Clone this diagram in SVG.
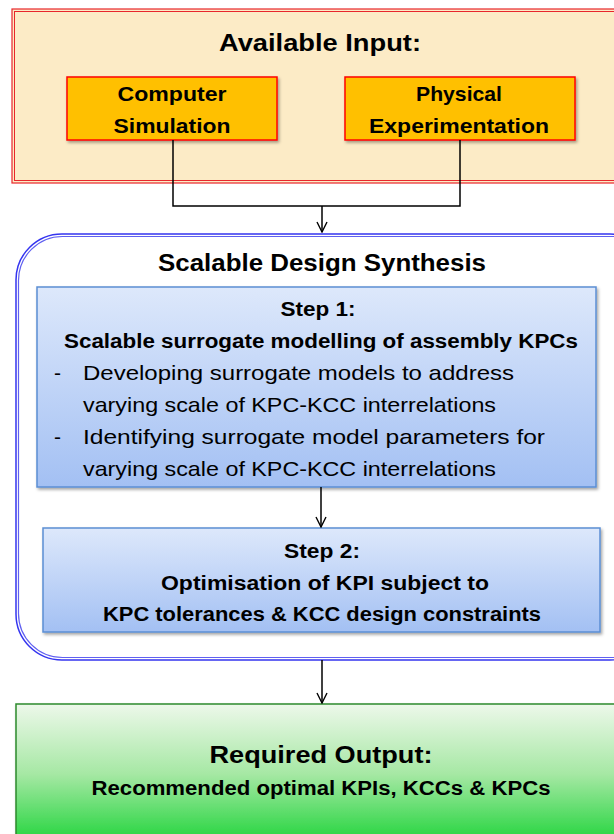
<svg xmlns="http://www.w3.org/2000/svg" width="614" height="834" viewBox="0 0 614 834">
<defs>
<style>
text{font-family:"Liberation Sans",Arial,sans-serif;fill:#000;text-anchor:middle}
.b{font-weight:bold}
.l{text-anchor:start}
.conn{fill:none;stroke:#000;stroke-width:1.5}
</style>
<linearGradient id="gBlue" x1="0" y1="0" x2="0" y2="1"><stop offset="0" stop-color="#dde8fb"/><stop offset="1" stop-color="#a3c0f3"/></linearGradient>
<linearGradient id="gGreen" x1="0" y1="0" x2="0" y2="1"><stop offset="0" stop-color="#edf8ea"/><stop offset="0.5" stop-color="#a6e8a4"/><stop offset="1" stop-color="#1fd43a"/></linearGradient>
<filter id="sh" x="-5%" y="-5%" width="110%" height="120%"><feDropShadow dx="1.5" dy="2" stdDeviation="1.5" flood-color="#000" flood-opacity="0.35"/></filter>
<marker id="arr" viewBox="0 0 12 12" refX="11" refY="6" markerWidth="12" markerHeight="12" markerUnits="userSpaceOnUse" orient="auto"><path d="M1,1 L11,6 L1,11" fill="none" stroke="#000" stroke-width="1.4"/></marker>
</defs>
<g id="input">
<rect x="12" y="9" width="610" height="174" fill="#fcebc6" stroke="#e8262b" stroke-width="1.2"/>
<rect x="14.5" y="11.5" width="610" height="169" fill="none" stroke="#e8262b" stroke-width="1"/>
<text class="b" x="320" y="51" font-size="23" textLength="202" lengthAdjust="spacingAndGlyphs">Available Input:</text>
</g>
<g id="computer">
<rect x="67" y="77" width="210" height="63" fill="#ffc000" stroke="#ff0000" stroke-width="1.5" filter="url(#sh)"/>
<text class="b" x="172" y="101" font-size="21" textLength="109" lengthAdjust="spacingAndGlyphs">Computer</text>
<text class="b" x="172" y="133" font-size="21" textLength="117" lengthAdjust="spacingAndGlyphs">Simulation</text>
</g>
<g id="physical">
<rect x="345" y="77" width="230" height="63" fill="#ffc000" stroke="#ff0000" stroke-width="1.5" filter="url(#sh)"/>
<text class="b" x="459" y="101" font-size="21" textLength="86" lengthAdjust="spacingAndGlyphs">Physical</text>
<text class="b" x="459" y="133" font-size="21" textLength="180" lengthAdjust="spacingAndGlyphs">Experimentation</text>
</g>
<g id="synthesis">
<rect x="16" y="234" width="640" height="426" rx="46" ry="46" fill="#fff" stroke="#3535f0" stroke-width="1.5"/>
<rect x="18.5" y="236.5" width="640" height="421" rx="44" ry="44" fill="none" stroke="#6060f0" stroke-width="1.2"/>
<text class="b" x="322" y="271" font-size="23" textLength="328" lengthAdjust="spacingAndGlyphs">Scalable Design Synthesis</text>
</g>
<g id="step1">
<rect x="37" y="287" width="559" height="200" fill="url(#gBlue)" stroke="#5b8ed4" stroke-width="1.5" filter="url(#sh)"/>
<text class="b" x="318" y="316" font-size="20" textLength="75" lengthAdjust="spacingAndGlyphs">Step 1:</text>
<text class="b" x="321" y="348" font-size="20" textLength="514" lengthAdjust="spacingAndGlyphs">Scalable surrogate modelling of assembly KPCs</text>
<text class="l" x="54" y="380" font-size="21">-</text>
<text class="l" x="83" y="380" font-size="21" textLength="431" lengthAdjust="spacingAndGlyphs">Developing surrogate models to address</text>
<text class="l" x="83" y="412" font-size="21" textLength="413" lengthAdjust="spacingAndGlyphs">varying scale of KPC-KCC interrelations</text>
<text class="l" x="54" y="444" font-size="21">-</text>
<text class="l" x="83" y="444" font-size="21" textLength="462" lengthAdjust="spacingAndGlyphs">Identifying surrogate model parameters for</text>
<text class="l" x="83" y="476" font-size="21" textLength="413" lengthAdjust="spacingAndGlyphs">varying scale of KPC-KCC interrelations</text>
</g>
<g id="step2">
<rect x="43" y="528" width="557" height="104" fill="url(#gBlue)" stroke="#5b8ed4" stroke-width="1.5" filter="url(#sh)"/>
<text class="b" x="322" y="558" font-size="20" textLength="76" lengthAdjust="spacingAndGlyphs">Step 2:</text>
<text class="b" x="325" y="590" font-size="20" textLength="328" lengthAdjust="spacingAndGlyphs">Optimisation of KPI subject to</text>
<text class="b" x="322" y="621" font-size="20" textLength="438" lengthAdjust="spacingAndGlyphs">KPC tolerances &amp; KCC design constraints</text>
</g>
<g id="output">
<rect x="16" y="704" width="610" height="140" fill="url(#gGreen)" stroke="#2c8a2c" stroke-width="1.5" filter="url(#sh)"/>
<text class="b" x="321" y="763" font-size="23" textLength="223" lengthAdjust="spacingAndGlyphs">Required Output:</text>
<text class="b" x="321" y="795" font-size="20" textLength="459" lengthAdjust="spacingAndGlyphs">Recommended optimal KPIs, KCCs &amp; KPCs</text>
</g>
<g id="connectors">
<path class="conn" d="M173,140 V206 H460 V140"/>
<path class="conn" d="M322,206 V232" marker-end="url(#arr)"/>
<path class="conn" d="M321,487 V527" marker-end="url(#arr)"/>
<path class="conn" d="M322,660 V703" marker-end="url(#arr)"/>
</g>
</svg>
